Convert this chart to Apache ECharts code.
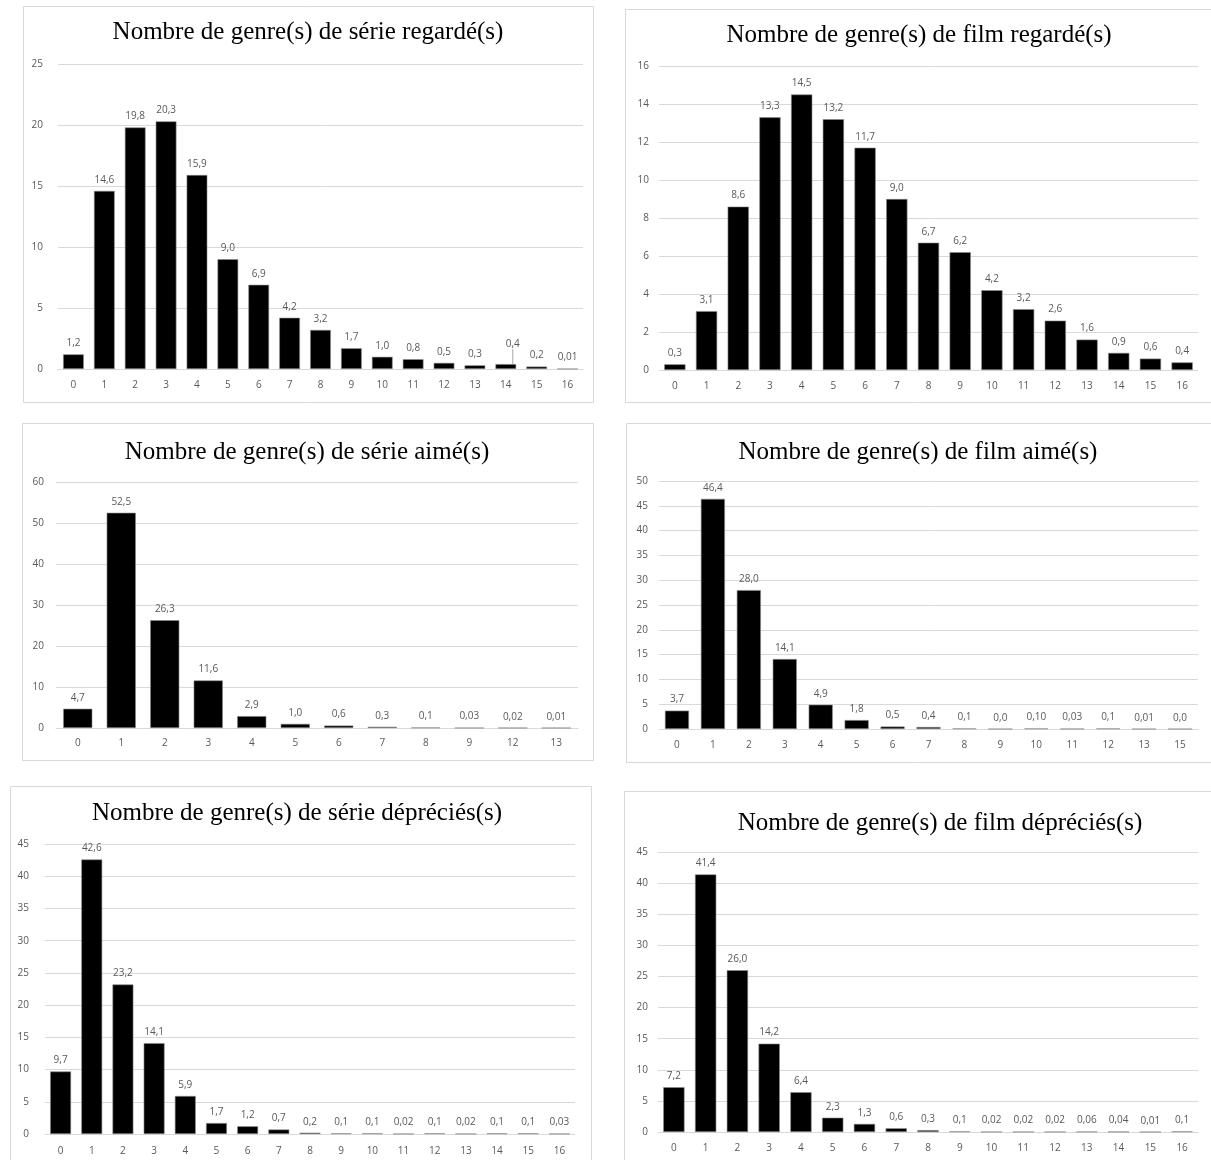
<!DOCTYPE html>
<html>
<head>
<meta charset="utf-8">
<script src="https://cdn.jsdelivr.net/npm/echarts@6/dist/echarts.min.js"></script>
<style>
html,body{margin:0;padding:0;background:#fff;}
#chart{width:1211px;height:1160px;}
</style>
</head>
<body>
<div id="chart"></div>
<script>
// ---- Data ----
const cats0to16 = ['0','1','2','3','4','5','6','7','8','9','10','11','12','13','14','15','16'];
const catsSerieAime = ['0','1','2','3','4','5','6','7','8','9','12','13'];
const catsFilmAime = ['0','1','2','3','4','5','6','7','8','9','10','11','12','13','15'];

const serieRegarde = ['1.2','14.6','19.8','20.3','15.9','9.0','6.9','4.2','3.2','1.7','1.0','0.8','0.5','0.3','0.4','0.2','0.01'];
const filmRegarde = ['0.3','3.1','8.6','13.3','14.5','13.2','11.7','9.0','6.7','6.2','4.2','3.2','2.6','1.6','0.9','0.6','0.4'];
const serieAime = ['4.7','52.5','26.3','11.6','2.9','1.0','0.6','0.3','0.1','0.03','0.02','0.01'];
const filmAime = ['3.7','46.4','28.0','14.1','4.9','1.8','0.5','0.4','0.1','0.0','0.10','0.03','0.1','0.01','0.0'];
const serieDeprecie = ['9.7','42.6','23.2','14.1','5.9','1.7','1.2','0.7','0.2','0.1','0.1','0.02','0.1','0.02','0.1','0.1','0.03'];
const filmDeprecie = ['7.2','41.4','26.0','14.2','6.4','2.3','1.3','0.6','0.3','0.1','0.02','0.02','0.02','0.06','0.04','0.01','0.1'];

const titles = [
  'Nombre de genre(s) de série regardé(s)',
  'Nombre de genre(s) de film regardé(s)',
  'Nombre de genre(s) de série aimé(s)',
  'Nombre de genre(s) de film aimé(s)',
  'Nombre de genre(s) de série dépréciés(s)',
  'Nombre de genre(s) de film dépréciés(s)'
];
const yMax = [25, 16, 60, 50, 45, 45];
const yStep = [5, 2, 10, 5, 5, 5];

// ---- Layout ----
const panels = [
  {cats: cats0to16, vals: serieRegarde, grid:{left:58, top:64, width:525, height:305}, box:[23.5,6.5,570,396], title:[308,32], ym:15, xm:11},
  {cats: cats0to16, vals: filmRegarde, grid:{left:659, top:66, width:539, height:304}, box:[625.5,9.5,590,393], title:[919,35], ym:10, xm:11},
  {cats: catsSerieAime, vals: serieAime, grid:{left:56, top:482, width:522, height:246}, box:[22.5,423.5,571,337], title:[307,452], ym:12, xm:10},
  {cats: catsFilmAime, vals: filmAime, grid:{left:659, top:481, width:539, height:248}, box:[626.5,423.5,590,339], title:[918,452], ym:11, xm:11},
  {cats: cats0to16, vals: serieDeprecie, grid:{left:45, top:844, width:530, height:290}, box:[10.5,786.5,581,390], title:[297,813], ym:16, xm:12},
  {cats: cats0to16, vals: filmDeprecie, grid:{left:658, top:852, width:540, height:280}, box:[624.5,791.5,600,390], title:[940,823], ym:10, xm:11}
];

const labelFont = {fontFamily:'Open Sans', fontSize:10, color:'#595959'};
const grids = [], xAxes = [], yAxes = [], series = [], graphics = [];

panels.forEach((p, i) => {
  graphics.push({type:'rect', shape:{x:p.box[0], y:p.box[1], width:p.box[2], height:p.box[3]},
    style:{fill:'none', stroke:'#d9d9d9', lineWidth:1}, z:-1});
  graphics.push({type:'text', x:p.title[0], y:p.title[1],
    style:{text:titles[i], fontFamily:'Liberation Serif', fontSize:25, fill:'#000',
      align:'center', verticalAlign:'middle'}});
  grids.push(Object.assign({containLabel:false}, p.grid));
  xAxes.push({type:'category', gridIndex:i, data:p.cats,
    axisLine:{show:true, lineStyle:{color:'#d9d9d9', width:1}},
    axisTick:{show:false},
    axisLabel:Object.assign({margin:p.xm, interval:0}, labelFont)});
  yAxes.push({type:'value', gridIndex:i, min:0, max:yMax[i], interval:yStep[i],
    axisLine:{show:false}, axisTick:{show:false},
    splitLine:{lineStyle:{color:'#d9d9d9', width:1}},
    axisLabel:Object.assign({margin:p.ym}, labelFont)});
  const s = {
    type:'bar', xAxisIndex:i, yAxisIndex:i, barCategoryGap:'33%',
    data: p.vals.map((v, k) => (i === 0 && k === 14) ? {value:v, labelLine:{show:true, lineStyle:{color:'#a6a6a6', width:1}}} : v),
    itemStyle:{color:'#000', borderColor:'#8c8c8c', borderWidth:0.6},
    label:Object.assign({show:true, position:'top', distance:6,
      formatter: (q) => String(q.value).replace('.', ',')}, labelFont),
    silent:true, animation:false
  };
  if (i === 0) {
    s.labelLayout = function (q) { return q.dataIndex === 14 ? {dx:7, dy:-9} : {}; };
  }
  series.push(s);
});

const chart = echarts.init(document.getElementById('chart'), null, {renderer:'canvas'});
chart.setOption({
  animation:false,
  backgroundColor:'#fff',
  grid:grids, xAxis:xAxes, yAxis:yAxes, series:series,
  graphic:graphics
});
</script>
</body>
</html>
